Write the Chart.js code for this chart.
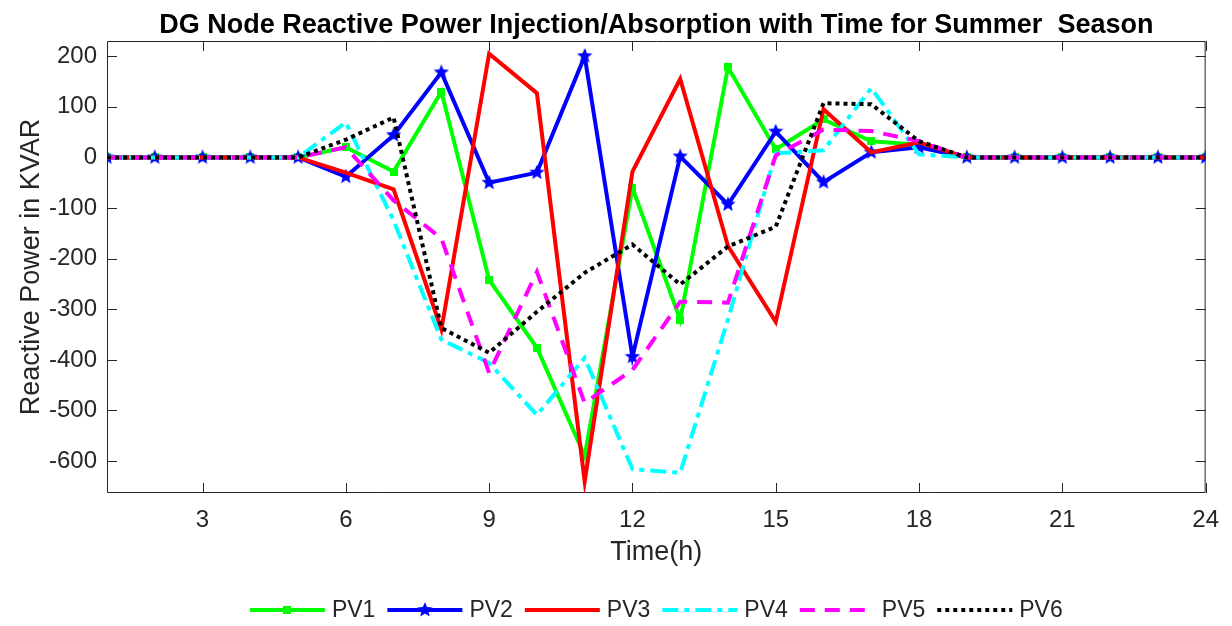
<!DOCTYPE html>
<html>
<head>
<meta charset="utf-8">
<title>DG Node Reactive Power - Summer</title>
<script src="https://cdn.jsdelivr.net/npm/chart.js@4.4.1/dist/chart.umd.min.js"></script>
<style>
    html, body { margin: 0; padding: 0; background: #ffffff; }
    #wrap { width: 1232px; height: 626px; }
</style>
</head>
<body>
<div id="wrap"><canvas id="qChart" width="1232" height="626"></canvas></div>
<script>
// Hour of day
const hours = [1, 2, 3, 4, 5, 6, 7, 8, 9, 10, 11, 12, 13, 14, 15, 16, 17, 18, 19, 20, 21, 22, 23, 24];
const xTicks = [3, 6, 9, 12, 15, 18, 21, 24];
const yTicks = [-600, -500, -400, -300, -200, -100, 0, 100, 200];

// Reactive power of each PV node (kVAR)
const pv1 = [0, 0, 0, 0, 0, 20, -28, 130, -242, -376, -590, -60, -321, 178, 16, 75, 32, 25, 0, 0, 0, 0, 0, 0];
const pv2 = [0, 0, 0, 0, 0, -38, 44, 168, -50, -30, 200, -394, 2, -93, 51, -49, 10, 20, 0, 0, 0, 0, 0, 0];
const pv3 = [0, 0, 0, 0, 0, -30, -63, -340, 205, 127, -640, -28, 155, -175, -325, 95, 10, 30, 0, 0, 0, 0, 0, 0];
const pv4 = [0, 0, 0, 0, 0, 69, -125, -360, -406, -509, -396, -616, -623, -320, 8, 14, 137, 6, 0, 0, 0, 0, 0, 0];
const pv5 = [0, 0, 0, 0, 0, 20, -85, -160, -426, -226, -485, -420, -285, -287, 4, 55, 52, 32, 0, 0, 0, 0, 0, 0];
const pv6 = [0, 0, 0, 0, 0, 35, 79, -337, -386, -305, -228, -172, -251, -176, -137, 107, 105, 32, 0, 0, 0, 0, 0, 0];

const FONT = "'Liberation Sans', Arial, Helvetica, sans-serif";
const TEXT = '#262626';

// Marker images (MATLAB style square and pentagram)
function makeSquare(size, color) {
    const c = document.createElement('canvas');
    c.width = c.height = size;
    const g = c.getContext('2d');
    g.fillStyle = color;
    g.fillRect(0, 0, size, size);
    return c;
}

function makeStar(size, color) {
    const c = document.createElement('canvas');
    c.width = c.height = size;
    const g = c.getContext('2d');
    const r = size / 2, ri = r * 0.45;
    g.beginPath();
    for (let i = 0; i < 10; i++) {
        const a = -Math.PI / 2 + i * Math.PI / 5;
        const rr = i % 2 ? ri : r;
        g.lineTo(r + rr * Math.cos(a), r + rr * Math.sin(a));
    }
    g.closePath();
    g.fillStyle = color;
    g.fill();
    return c;
}

const squareGreen = makeSquare(8, '#00ff00');
const starBlue = makeStar(16, '#0000ff');

function toPoints(values) {
    return hours.map((h, i) => ({ x: h, y: values[i] }));
}

// Box round the plot with inward tick marks on all four sides
const axisBox = {
    id: 'axisBox',
    beforeDatasetsDraw(chart) {
        const { ctx, chartArea: a, scales: { x, y } } = chart;
        const len = 10;
        ctx.save();
        ctx.strokeStyle = TEXT;
        ctx.lineWidth = 1;
        ctx.beginPath();
        ctx.rect(a.left + 0.5, a.top + 0.5, a.right - a.left - 1, a.bottom - a.top - 1);
        xTicks.forEach(v => {
            const px = Math.round(x.getPixelForValue(v)) + 0.5;
            ctx.moveTo(px, a.bottom);
            ctx.lineTo(px, a.bottom - len);
            ctx.moveTo(px, a.top);
            ctx.lineTo(px, a.top + len);
        });
        yTicks.forEach(v => {
            const py = Math.round(y.getPixelForValue(v)) + 0.5;
            ctx.moveTo(a.left, py);
            ctx.lineTo(a.left + len, py);
            ctx.moveTo(a.right, py);
            ctx.lineTo(a.right - len, py);
        });
        ctx.stroke();
        ctx.restore();
    }
};

// Title above the plot and legend row below
const titleAndLegend = {
    id: 'titleAndLegend',
    afterDraw(chart) {
        const { ctx, chartArea: a } = chart;
        const cx = (a.left + a.right) / 2;
        ctx.save();
        ctx.fillStyle = '#000';
        ctx.font = 'bold 27px ' + FONT;
        ctx.textAlign = 'center';
        ctx.textBaseline = 'middle';
        ctx.fillText('DG Node Reactive Power Injection/Absorption with Time for Summer  Season', cx, 26);

        // legend
        const lineLen = 75, gap = 7, itemGap = 12, ly = 610;
        ctx.font = '23px ' + FONT;
        const sets = chart.data.datasets;
        const widths = sets.map(d => lineLen + gap + ctx.measureText(d.label).width);
        const total = widths.reduce((s, w) => s + w, 0) + itemGap * (sets.length - 1);
        let lx = cx - total / 2;
        sets.forEach((d, i) => {
            ctx.save();
            ctx.strokeStyle = d.borderColor;
            ctx.lineWidth = d.borderWidth;
            ctx.setLineDash(d.borderDash || []);
            ctx.beginPath();
            ctx.moveTo(lx, ly);
            ctx.lineTo(lx + lineLen, ly);
            ctx.stroke();
            ctx.restore();
            if (d.pointStyle instanceof HTMLCanvasElement) {
                const m = d.pointStyle;
                ctx.drawImage(m, lx + lineLen / 2 - m.width / 2, ly - m.height / 2);
            }
            ctx.fillStyle = TEXT;
            ctx.textAlign = 'left';
            ctx.fillText(d.label, lx + lineLen + gap, ly + 1);
            lx += widths[i] + itemGap;
        });
        ctx.restore();
    }
};

const ctx = document.getElementById('qChart').getContext('2d');
const qChart = new Chart(ctx, {
    type: 'line',
    data: {
        datasets: [
            { label: 'PV1', data: toPoints(pv1), borderColor: '#00ff00', borderWidth: 4,
              pointStyle: squareGreen, pointRadius: 5, order: 6 },
            { label: 'PV2', data: toPoints(pv2), borderColor: '#0000ff', borderWidth: 4,
              pointStyle: starBlue, pointRadius: 8, order: 5 },
            { label: 'PV3', data: toPoints(pv3), borderColor: '#ff0000', borderWidth: 4,
              pointRadius: 0, order: 4 },
            { label: 'PV4', data: toPoints(pv4), borderColor: '#00ffff', borderWidth: 4,
              borderDash: [16, 6, 5, 6], pointRadius: 0, order: 3 },
            { label: 'PV5', data: toPoints(pv5), borderColor: '#ff00ff', borderWidth: 4,
              borderDash: [15, 10], pointRadius: 0, order: 2 },
            { label: 'PV6', data: toPoints(pv6), borderColor: '#000000', borderWidth: 4,
              borderDash: [4, 4], pointRadius: 0, order: 1 }
        ]
    },
    options: {
        responsive: false,
        animation: false,
        layout: { padding: { top: 41, right: 24, bottom: 57, left: 0 } },
        elements: { line: { tension: 0, fill: false, borderCapStyle: 'butt' } },
        plugins: {
            legend: { display: false },
            tooltip: { enabled: false },
            title: { display: false }
        },
        scales: {
            x: {
                type: 'linear',
                min: 1,
                max: 24,
                afterBuildTicks: scale => { scale.ticks = xTicks.map(v => ({ value: v })); },
                afterFit: scale => { scale.height = 76; },
                grid: { display: false, drawTicks: false },
                border: { display: false },
                ticks: { color: TEXT, font: { family: FONT, size: 24 }, padding: 13, maxRotation: 0 },
                title: { display: true, text: 'Time(h)', color: TEXT,
                         font: { family: FONT, size: 27 }, padding: { top: 4, bottom: 0 } }
            },
            y: {
                min: -663,
                max: 230,
                afterBuildTicks: scale => { scale.ticks = yTicks.map(v => ({ value: v })); },
                afterFit: scale => { scale.width = 107; },
                grid: { display: false, drawTicks: false },
                border: { display: false },
                ticks: { color: TEXT, font: { family: FONT, size: 24 }, padding: 10 },
                title: { display: true, text: 'Reactive Power in KVAR', color: TEXT,
                         font: { family: FONT, size: 27 }, padding: { top: 15, bottom: 0 } }
            }
        }
    },
    plugins: [axisBox, titleAndLegend]
});
</script>
</body>
</html>
